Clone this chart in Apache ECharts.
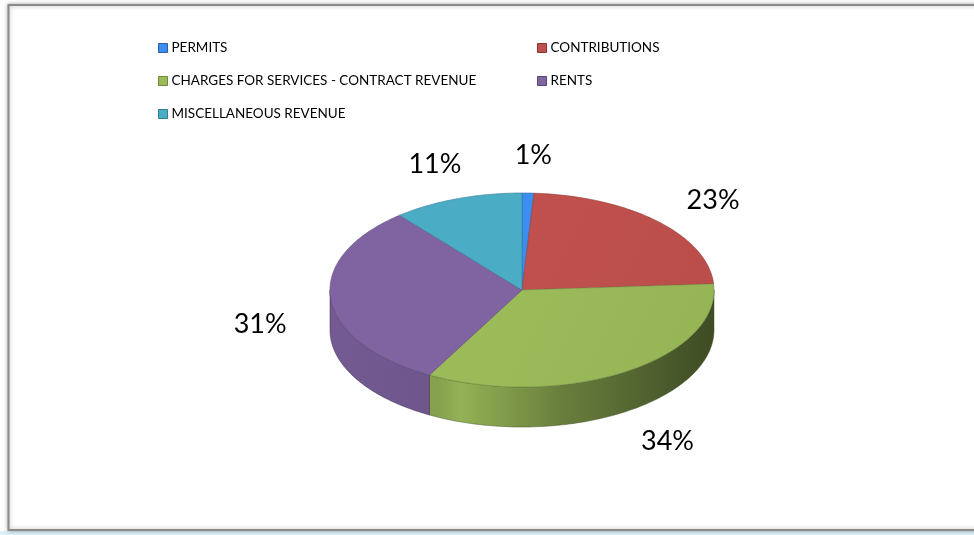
<!DOCTYPE html>
<html>
<head>
<meta charset="utf-8">
<script src="https://cdn.jsdelivr.net/npm/echarts@6/dist/echarts.min.js"></script>
<style>
  html, body { margin: 0; padding: 0; background: #ffffff; }
  #chart { width: 974px; height: 535px; }
</style>
</head>
<body>
<div id="chart"></div>
<script>
// Revenue sources, share of total (%)
const categories = [
  'PERMITS',
  'CONTRIBUTIONS',
  'CHARGES FOR SERVICES - CONTRACT REVENUE',
  'RENTS',
  'MISCELLANEOUS REVENUE'
];
const shares = [1, 23, 34, 31, 11];
const colors = ['#3b8ef0', '#c0504d', '#9bbb59', '#8064a2', '#4bacc6'];
const legendBorders = ['#2a5fa3', '#8c3533', '#6d883b', '#5a4678', '#327d91'];

// legend columns
const legendLeft = [categories[0], categories[2], categories[4]];
const legendRight = [categories[1], categories[3]];

const total = shares.reduce((a, b) => a + b, 0);
const starts = [];
shares.reduce((acc, v) => { starts.push(acc); return acc + v; }, 0);

// tilted-pie geometry (pixels)
const PIE = { cx: 522, cy: 290, rx: 192, ry: 97, depth: 40,
              labelDx: 3, labelDy: 20, labelRx: 266, labelRy: 155 };

function shade(hex, f) {
  const n = parseInt(hex.slice(1), 16);
  const r = Math.round(((n >> 16) & 255) * f);
  const g = Math.round(((n >> 8) & 255) * f);
  const b = Math.round((n & 255) * f);
  return 'rgb(' + r + ',' + g + ',' + b + ')';
}

function ellipsePoint(t, dy) {
  return [PIE.cx + PIE.rx * Math.sin(t), PIE.cy - PIE.ry * Math.cos(t) + (dy || 0)];
}

function arcPoints(a0, a1, dy) {
  const steps = Math.max(2, Math.ceil(Math.abs(a1 - a0) / (Math.PI / 180)));
  const pts = [];
  for (let k = 0; k <= steps; k++) {
    pts.push(ellipsePoint(a0 + (a1 - a0) * k / steps, dy));
  }
  return pts;
}

// side wall gets darker toward the right, as if lit from the left
function sideFill(color) {
  return new echarts.graphic.LinearGradient(
    PIE.cx - PIE.rx, 0, PIE.cx + PIE.rx, 0,
    [
      { offset: 0, color: shade(color, 0.9) },
      { offset: 0.28, color: shade(color, 0.86) },
      { offset: 0.34, color: shade(color, 0.95) },
      { offset: 0.6, color: shade(color, 0.68) },
      { offset: 0.85, color: shade(color, 0.5) },
      { offset: 1, color: shade(color, 0.4) }
    ],
    true
  );
}

// soft highlight across the top face
function topFill(color) {
  return new echarts.graphic.LinearGradient(
    PIE.cx - PIE.rx, PIE.cy - PIE.ry, PIE.cx + PIE.rx, PIE.cy + PIE.ry,
    [
      { offset: 0, color: shade(color, 1.0) },
      { offset: 0.5, color: shade(color, 1.0) },
      { offset: 1, color: shade(color, 0.96) }
    ],
    true
  );
}

function renderSlice(params, api) {
  const color = colors[params.seriesIndex];
  const start = api.value(0);
  const value = api.value(1);
  const a0 = start / total * Math.PI * 2;
  const a1 = (start + value) / total * Math.PI * 2;
  const children = [];

  // visible front part of the rim
  const s0 = Math.max(a0, Math.PI / 2);
  const s1 = Math.min(a1, Math.PI * 1.5);
  if (s1 > s0) {
    const topEdge = arcPoints(s0, s1, 0);
    const bottomEdge = arcPoints(s1, s0, PIE.depth);
    children.push({
      type: 'polygon',
      shape: { points: topEdge.concat(bottomEdge) },
      style: { fill: sideFill(color), stroke: shade(color, 0.45), lineWidth: 0.5 }
    });
  }

  // top face
  children.push({
    type: 'polygon',
    shape: { points: [[PIE.cx, PIE.cy]].concat(arcPoints(a0, a1, 0)) },
    style: { fill: topFill(color), stroke: shade(color, 0.75), lineWidth: 0.6 }
  });

  // percentage label
  const mid = (a0 + a1) / 2;
  children.push({
    type: 'text',
    x: PIE.cx + PIE.labelDx + PIE.labelRx * Math.sin(mid),
    y: PIE.cy + PIE.labelDy - PIE.labelRy * Math.cos(mid),
    style: {
      text: Math.round(value / total * 100) + '%',
      font: '27px Lato',
      fill: '#000000',
      align: 'center',
      verticalAlign: 'middle'
    }
  });

  return { type: 'group', children: children };
}

const series = categories.map((name, i) => ({
  type: 'custom',
  name: name,
  coordinateSystem: 'none',
  silent: true,
  itemStyle: { color: colors[i] },
  data: [[starts[i], shares[i]]],
  renderItem: renderSlice
}));

function legendData(names) {
  return names.map(n => {
    const i = categories.indexOf(n);
    return { name: n, itemStyle: { color: colors[i], borderColor: legendBorders[i], borderWidth: 1 } };
  });
}

const legendCommon = {
  orient: 'vertical',
  top: 41,
  padding: 0,
  icon: 'rect',
  itemWidth: 9,
  itemHeight: 9,
  itemGap: 19,
  selectedMode: false,
  textStyle: { fontFamily: 'Lato', fontSize: 13.5, color: '#000000', padding: [0, 0, 0, -1] }
};

const chart = echarts.init(document.getElementById('chart'), null, { renderer: 'canvas' });
chart.setOption({
  animation: false,
  backgroundColor: '#ffffff',
  graphic: [
    {
      type: 'rect', z: -20, silent: true,
      shape: { x: 0, y: 531, width: 974, height: 4 },
      style: { fill: '#dcf0f8' }
    },
    {
      type: 'rect', z: -10, silent: true,
      shape: { x: 8.5, y: 5, width: 1000, height: 525 },
      style: { fill: '#ffffff', stroke: '#8a8a8a', lineWidth: 2, shadowBlur: 4, shadowColor: 'rgba(0,0,0,0.3)' }
    }
  ],
  legend: [
    Object.assign({}, legendCommon, { left: 158, data: legendData(legendLeft) }),
    Object.assign({}, legendCommon, { left: 537, data: legendData(legendRight) })
  ],
  series: series
});
</script>
</body>
</html>
